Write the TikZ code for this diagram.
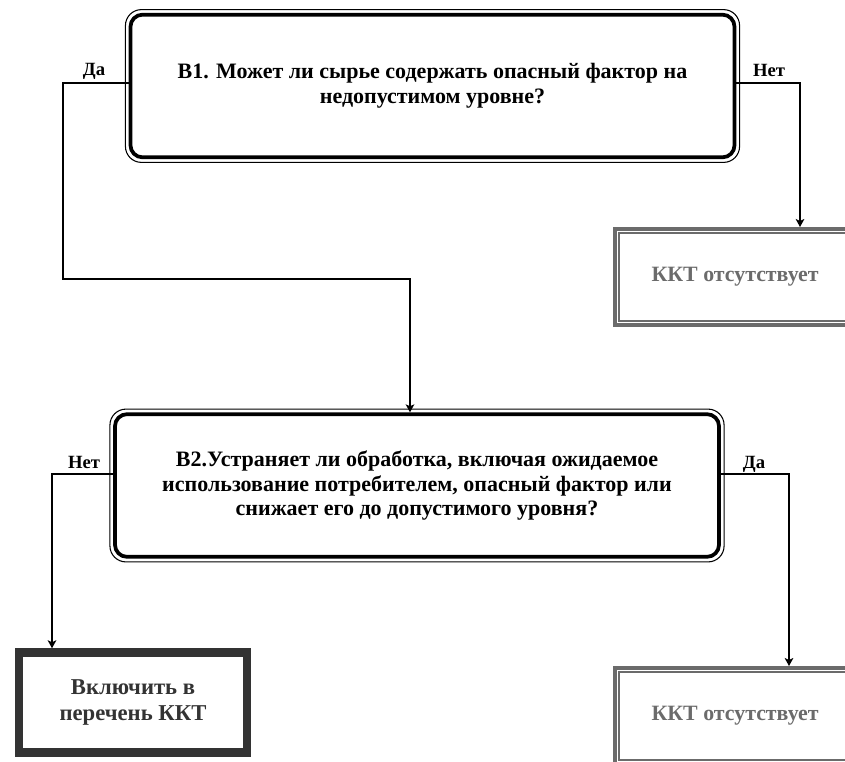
\documentclass[tikz,border=0pt]{standalone}
\usepackage{fontspec}
\setmainfont{Liberation Serif}
\usetikzlibrary{shapes,arrows.meta}
\definecolor{kktgray}{gray}{0.42}
\definecolor{darkframe}{gray}{0.2}
\tikzstyle{qblock} = [rectangle, draw, line width=2.8pt, rounded corners=9pt, align=center,
font=\bfseries\fontsize{16.5}{18.6}\selectfont, minimum width=453pt, minimum height=107pt]
\tikzstyle{qframe} = [draw, line width=0.8pt, rounded corners=12pt]
\tikzstyle{Kblock} = [rectangle, draw=kktgray, line width=3pt, text=kktgray, align=center,
font=\bfseries\fontsize{16.4}{19}\selectfont, minimum width=180pt, minimum height=72pt]
\tikzstyle{Kframe} = [draw=kktgray, line width=0.8pt]
\tikzstyle{Vblock} = [rectangle, draw=darkframe, line width=6.4pt, text=darkframe, align=center,
font=\bfseries\fontsize{17}{19}\selectfont, minimum width=171pt, minimum height=75pt]
\tikzstyle{lbl} = [font=\bfseries\fontsize{14}{16}\selectfont]
\tikzstyle{line} = [draw, line width=0.9pt, -{Stealth[length=6pt, width=6.5pt, inset=1.5pt]}]

\begin{document}
\begin{tikzpicture}[x=0.75pt, y=-0.75pt]

   \useasboundingbox (0,0) rectangle (845,761);
   \clip (0,0) rectangle (845,761);

   \node[qblock] (B1) at (432.5,86) {B1. Может ли сырье содержать опасный фактор на\\недопустимом уровне?};
   \node[qblock] (B2) at (417,485.5) {B2.Устраняет ли обработка, включая ожидаемое\\использование потребителем, опасный фактор или\\снижает его до допустимого уровня?};

   \node[Kblock] (KKT1) at (735,277) {ККТ отсутствует};
   \node[Kblock] (KKT2) at (735,716) {ККТ отсутствует};
   \node[Vblock] (VK) at (133,702.5) {Включить в\\перечень ККТ};

   % outer thin frames of questions
   \draw[qframe] ([shift={(-2.4pt,2.4pt)}]B1.north west) rectangle ([shift={(2.4pt,-2.4pt)}]B1.south east);
   \draw[qframe] ([shift={(-2.4pt,2.4pt)}]B2.north west) rectangle ([shift={(2.4pt,-2.4pt)}]B2.south east);

   % inner thin frames of KKT boxes
   \draw[Kframe] ([shift={(4.5pt,-4.5pt)}]KKT1.north west) rectangle ([shift={(-4.5pt,4.5pt)}]KKT1.south east);
   \draw[Kframe] ([shift={(4.5pt,-4.5pt)}]KKT2.north west) rectangle ([shift={(-4.5pt,4.5pt)}]KKT2.south east);

   %% Labels
   \node[lbl] (yesB1) at (94,71) {Да};
   \node[lbl] (noB1) at (769,70) {Нет};
   \node[lbl] (noB2) at (84,462) {Нет};
   \node[lbl] (yesB2) at (754,464) {Да};

   \coordinate (loopB1) at (63,279);

   %% Lines
   \path[line] ([yshift=2.25pt]B1.west) -| (loopB1) -| ([xshift=-5.25pt]B2.north);
   \path[line] ([yshift=2.25pt]B1.east) -| ([xshift=48.75pt]KKT1.north);
   \path[line] ([yshift=8.6pt]B2.west) -| ([xshift=-60.75pt]VK.north);
   \path[line] ([yshift=8.6pt]B2.east) -| ([xshift=40.5pt]KKT2.north);

\end{tikzpicture}
\end{document}
